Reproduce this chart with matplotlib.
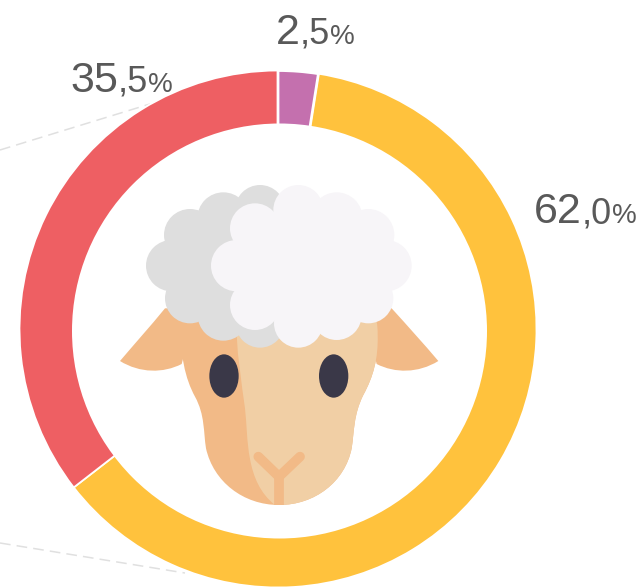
import matplotlib
matplotlib.use("Agg")
import matplotlib.pyplot as plt
from matplotlib.patches import Circle, Ellipse, PathPatch, Polygon
from matplotlib.path import Path

shares = [2.5, 62.0, 35.5]
whole_parts = ["2", "62", "35"]
decimal_parts = [",5", ",0", ",5"]
colors = ["#C470AE", "#FFC23D", "#EE5F63"]

plt.rcParams['font.family'] = ['Liberation Sans', 'DejaVu Sans']

dark_skin = "#F2BA87"
light_skin = "#F1CFA5"
wool_grey = "#DEDEDE"
wool_white = "#F7F5F8"
eye_color = "#3A3848"
text_color = "#595959"


# sheep was measured on a 3x crop starting at (110, 175)
def px(x, y):
    return (110 + x / 3, 175 + y / 3)


def blob(ax, verts, codes, color, z):
    pts = [px(x, y) for x, y in verts]
    ax.add_patch(PathPatch(Path(pts, codes), facecolor=color, edgecolor="none", zorder=z))


def curve(points):
    # first point is a moveto, the others are cubic bezier triples, then close
    codes = [Path.MOVETO] + [Path.CURVE4] * (len(points) - 1) + [Path.CLOSEPOLY]
    return points + [points[0]], codes


def puffs(ax, circles, color, z):
    # circles round the edge plus a polygon through their centres to fill the middle
    for x, y, r in circles:
        ax.add_patch(Circle(px(x, y), r / 3, facecolor=color, edgecolor="none", zorder=z))
    ax.add_patch(Polygon([px(x, y) for x, y, r in circles], closed=True, facecolor=color,
                         edgecolor="none", zorder=z))


fig = plt.figure(figsize=(6.41, 5.87), dpi=100)
ax = fig.add_axes([0, 0, 1, 1])

# leader lines behind the ring
ax.plot([0, 150], [150, 104], color="#E0E0E0", lw=1.1, dashes=(7, 4), zorder=1)
ax.plot([0, 185], [543, 573], color="#E0E0E0", lw=1.1, dashes=(7, 4), zorder=1)

# y axis is flipped below, so counterclock here reads clockwise on screen
wedges, _ = ax.pie(shares, colors=colors, center=(278, 329), radius=258.5,
                   startangle=-90, counterclock=True, frame=True,
                   wedgeprops={"width": 70, "edgecolor": "white", "linewidth": 1.3})
for w in wedges:
    w.set_zorder(2)
# small wedge has a wider white rim, mostly seen on the yellow side
wedges[0].set_linewidth(2.0)
wedges[0].set_zorder(2.5)

# hole of the ring sits a little off centre in the reference
ax.add_patch(Circle((279.5, 331), 207.5, facecolor="white", edgecolor="none", zorder=2.8))

ax.set_xlim(0, 641)
ax.set_ylim(587, 0)
ax.set_aspect("equal")
ax.axis("off")

# ears, they run in under the wool so no gap shows against the head
v, c = curve([(30, 558), (75, 505), (120, 455), (165, 400), (200, 400), (230, 400), (260, 400),
              (245, 450), (230, 510), (215, 567), (160, 595), (90, 595), (30, 558)])
blob(ax, v, c, dark_skin, 3)
v, c = curve([(985, 558), (940, 505), (895, 455), (845, 400), (815, 400), (785, 400), (760, 400),
              (770, 450), (785, 510), (800, 567), (855, 595), (925, 595), (985, 558)])
blob(ax, v, c, dark_skin, 3)

# head
v, c = curve([(212, 440), (210, 540), (225, 610), (255, 665), (285, 720), (280, 770), (288, 820),
              (310, 920), (400, 990), (507, 990), (615, 990), (705, 920), (725, 820),
              (733, 770), (730, 720), (760, 660), (790, 605), (805, 550), (803, 480),
              (803, 460), (802, 450), (800, 440), (600, 300), (400, 300), (212, 440)])
blob(ax, v, c, dark_skin, 4)
v, c = curve([(378, 400), (378, 540), (395, 620), (405, 700), (415, 790), (405, 920), (495, 990),
              (500, 990), (503, 990), (507, 990), (615, 990), (705, 920), (725, 820),
              (733, 770), (730, 720), (760, 660), (790, 605), (805, 550), (803, 480),
              (803, 460), (802, 450), (800, 440), (600, 350), (500, 350), (378, 400)])
blob(ax, v, c, light_skin, 5)

# nose
nose = [px(445, 845), px(507, 905), px(570, 845)]
ax.plot([p[0] for p in nose], [p[1] for p in nose], color=dark_skin, lw=7.0,
        solid_capstyle="round", solid_joinstyle="miter", zorder=6)
stem = [px(507, 905), px(507, 990)]
ax.plot([p[0] for p in stem], [p[1] for p in stem], color=dark_skin, lw=7.0,
        solid_capstyle="butt", zorder=6)

# eyes
for ex in (342, 671):
    ax.add_patch(Ellipse(px(ex, 603), 88 / 3, 130 / 3, facecolor=eye_color,
                         edgecolor="none", zorder=7))

# wool, grey part then the white part on top
grey_puffs = [(240, 180, 78), (340, 130, 78), (450, 105, 75), (560, 150, 75), (560, 400, 75),
              (450, 445, 73), (340, 420, 77), (240, 370, 75), (185, 272, 77)]
white_puffs = [(565, 105, 75), (680, 130, 78), (775, 180, 78), (828, 272, 77),
               (775, 370, 75), (680, 420, 75), (565, 445, 73), (435, 390, 75),
               (380, 272, 77), (435, 160, 75)]
puffs(ax, grey_puffs, wool_grey, 8)
puffs(ax, white_puffs, wool_white, 9)

# labels are three sizes: whole part, comma and decimal, then the percent sign
label_pos = [(276, 44), (534, 223), (70, 92)]
rend = fig.canvas.get_renderer()
for (x, y), big, mid in zip(label_pos, whole_parts, decimal_parts):
    x2 = x
    for part, size in ((big, 31), (mid, 26), ("%", 20)):
        t = ax.text(x2, y, part, fontsize=size, color=text_color, ha="left", va="baseline", zorder=10)
        box = t.get_window_extent(rend)
        x2 = ax.transData.inverted().transform((box.x1, box.y0))[0]

fig.savefig("out.png", dpi=100)
